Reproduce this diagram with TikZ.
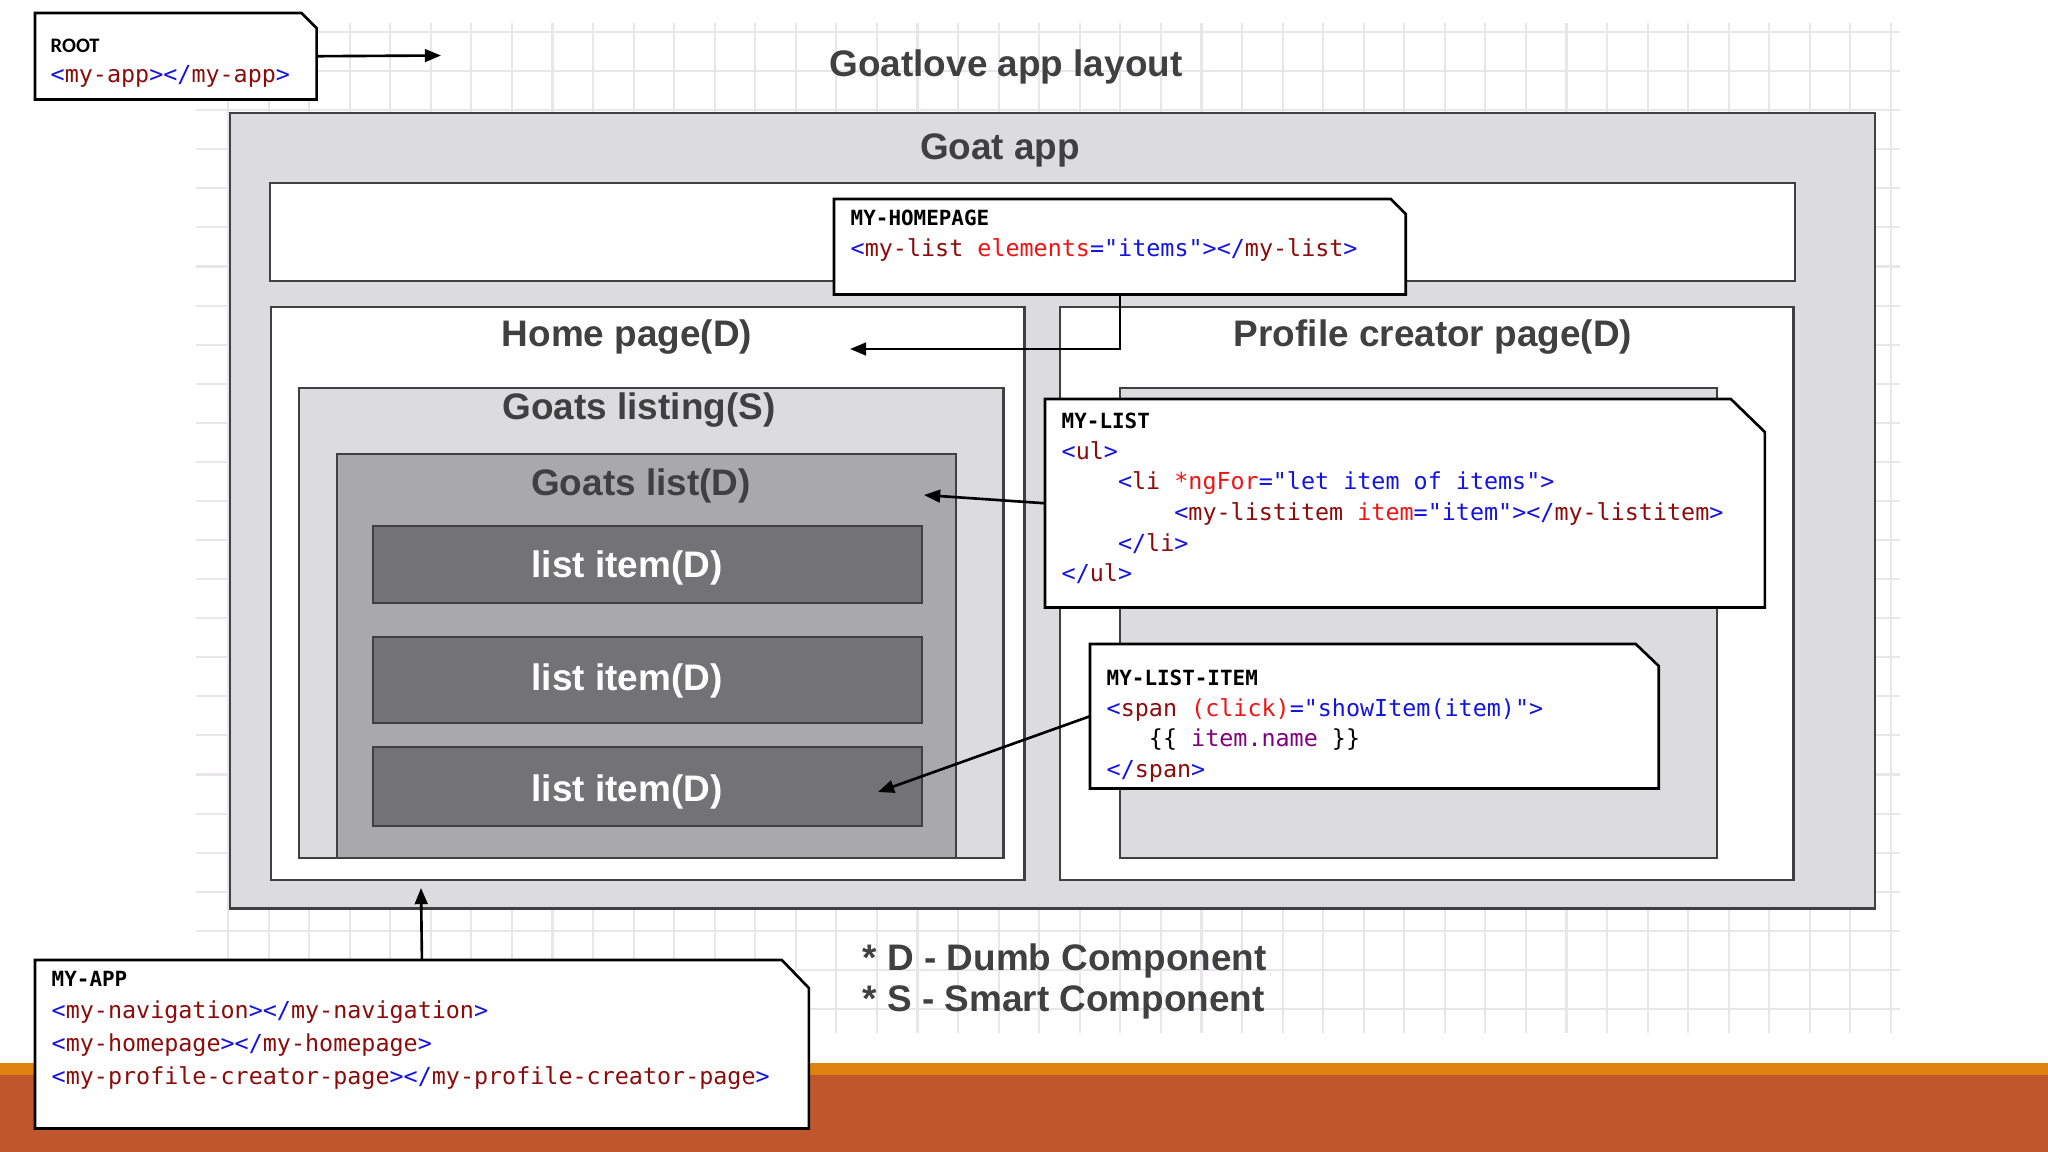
\documentclass[tikz,border=0pt]{standalone}
\usepackage{fontspec}
\setmainfont{Liberation Sans}
\setmonofont{DejaVu Sans Mono}
\newfontfamily\rootfont{Carlito}
\usepackage{xcolor}
\usepackage{tikz}
\usetikzlibrary{arrows.meta, positioning, calc}
\definecolor{gridgray}{RGB}{232,230,235}
\definecolor{appgray}{RGB}{220,219,222}
\definecolor{listgray}{RGB}{169,168,171}
\definecolor{itemgray}{RGB}{115,114,117}
\definecolor{boxborder}{RGB}{64,64,64}
\definecolor{titlegray}{RGB}{64,64,64}
\definecolor{bandorange}{RGB}{224,130,16}
\definecolor{bandrust}{RGB}{190,88,44}
\definecolor{codeblue}{RGB}{20,20,225}
\definecolor{codename}{RGB}{140,12,12}
\definecolor{codeattr}{RGB}{238,20,20}
\definecolor{codeexpr}{RGB}{128,0,128}
\newcommand{\tagc}[1]{\textcolor{codeblue}{#1}}
\newcommand{\namec}[1]{\textcolor{codename}{#1}}
\newcommand{\attrc}[1]{\textcolor{codeattr}{#1}}
\newcommand{\exprc}[1]{\textcolor{codeexpr}{#1}}
\newcommand{\headc}[1]{{\fontsize{5.95}{8.7}\selectfont\bfseries #1}}

\begin{document}
\begin{tikzpicture}[
    x=0.01cm, y=-0.01cm,
    font=\fontsize{10.5}{12}\selectfont\bfseries,
    >={Triangle[length=4.6pt, width=3.6pt]},
    gridline/.style={draw=gridgray, line width=0.6pt},
    layoutbox/.style={draw=boxborder, line width=0.6pt, anchor=north west, inner sep=0pt},
    boxtitle/.style={text=titlegray},
    itemtitle/.style={text=white},
    callout/.style={rectangle, anchor=north west, inner sep=0pt},
    calloutline/.style={draw=black, fill=white, line width=0.75pt, line join=miter},
    codetext/.style={font=\fontsize{6.65}{8.7}\selectfont\ttfamily, align=left, inner sep=0pt},
    arrow/.style={->, line width=0.75pt, draw=black}
]
\useasboundingbox (0,0) rectangle (2048,1152);

\foreach \k in {0,...,41}
    \draw[gridline] (228+40.56*\k,23) -- (228+40.56*\k,1033);
\foreach \k in {0,...,25}
    \draw[gridline] (196,32+39.08*\k) -- (1900,32+39.08*\k);

\fill[bandorange] (0,1063) rectangle (2048,1075);
\fill[bandrust] (0,1075) rectangle (2048,1152);

\node[layoutbox, fill=appgray, minimum width=16.44cm, minimum height=7.95cm] (goatapp) at (229,112) {};
\node[layoutbox, fill=white, minimum width=15.24cm, minimum height=0.98cm] (navbar) at (269,182) {};
\node[layoutbox, fill=white, minimum width=7.53cm, minimum height=5.73cm] (homepage) at (270,306) {};
\node[layoutbox, fill=appgray, minimum width=7.04cm, minimum height=4.70cm] (listing) at (298,387) {};
\node[layoutbox, fill=listgray, minimum width=6.19cm, minimum height=4.04cm] (goatslist) at (336,453) {};
\node[layoutbox, fill=itemgray, minimum width=5.49cm, minimum height=0.77cm] (item1) at (372,525) {};
\node[layoutbox, fill=itemgray, minimum width=5.49cm, minimum height=0.86cm] (item2) at (372,636) {};
\node[layoutbox, fill=itemgray, minimum width=5.49cm, minimum height=0.79cm] (item3) at (372,746) {};
\node[layoutbox, fill=white, minimum width=7.33cm, minimum height=5.73cm] (profile) at (1059,306) {};
\node[layoutbox, fill=appgray, minimum width=5.97cm, minimum height=4.70cm] (profinner) at (1119,387) {};

\node[boxtitle] (layouttitle) at (1006,67) {Goatlove app layout};
\node[boxtitle] (apptitle) at (1000,150) {Goat app};
\node[boxtitle] (hometitle) at (627,337) {Home page(D)};
\node[boxtitle] (listingtitle) at (639,410) {Goats listing(S)};
\node[boxtitle] (listtitle) at (641,486) {Goats list(D)};
\node[itemtitle] (item1title) at (627,568) {list item(D)};
\node[itemtitle] (item2title) at (627,681) {list item(D)};
\node[itemtitle] (item3title) at (627,792) {list item(D)};
\node[boxtitle] (profiletitle) at (1433,337) {Profile creator page(D)};

\node[boxtitle, anchor=west, inner sep=0pt] (legendd) at (862,961) {* D - Dumb Component};
\node[boxtitle, anchor=west, inner sep=0pt] (legends) at (862,1002) {* S - Smart Component};

\node[callout, minimum width=2.80cm, minimum height=0.85cm] (root) at (35,13) {};
\filldraw[calloutline] (root.south west) -- (root.north west) -- ([xshift=-0.15cm]root.north east)
    -- ([yshift=-0.15cm]root.north east) -- (root.south east) -- cycle;
\node[codetext, below right=0.25cm and 0.15cm of root.north west] (roottext) {{\rootfont\bfseries\fontsize{5.85}{8.7}\selectfont ROOT}\\
    \tagc{<}\namec{my-app}\tagc{></}\namec{my-app}\tagc{>}};

\node[callout, minimum width=5.70cm, minimum height=0.94cm] (myhome) at (834,199) {};
\filldraw[calloutline] (myhome.south west) -- (myhome.north west) -- ([xshift=-0.15cm]myhome.north east)
    -- ([yshift=-0.15cm]myhome.north east) -- (myhome.south east) -- cycle;
\node[codetext, below right=0.105cm and 0.16cm of myhome.north west] (hometext) {\headc{MY-HOMEPAGE}\\
    \tagc{<}\namec{my-list} \attrc{elements}\tagc{="items"></}\namec{my-list}\tagc{>}};

\node[callout, minimum width=7.18cm, minimum height=2.07cm] (mylist) at (1045,399) {};
\filldraw[calloutline] (mylist.south west) -- (mylist.north west) -- ([xshift=-0.34cm]mylist.north east)
    -- ([yshift=-0.33cm]mylist.north east) -- (mylist.south east) -- cycle;
\node[codetext, below right=0.135cm and 0.16cm of mylist.north west] (listtext) {\headc{MY-LIST}\\
    \tagc{<}\namec{ul}\tagc{>}\\
    \phantom{0000}\tagc{<}\namec{li} \attrc{*ngFor}\tagc{="let item of items">}\\
    \phantom{00000000}\tagc{<}\namec{my-listitem} \attrc{item}\tagc{="item"></}\namec{my-listitem}\tagc{>}\\
    \phantom{0000}\tagc{</}\namec{li}\tagc{>}\\
    \tagc{</}\namec{ul}\tagc{>}};

\node[callout, minimum width=5.67cm, minimum height=1.43cm] (mylistitem) at (1090,644) {};
\filldraw[calloutline] (mylistitem.south west) -- (mylistitem.north west) -- ([xshift=-0.23cm]mylistitem.north east)
    -- ([yshift=-0.22cm]mylistitem.north east) -- (mylistitem.south east) -- cycle;
\node[codetext, below right=0.255cm and 0.16cm of mylistitem.north west] (itemtext) {\headc{MY-LIST-ITEM}\\
    \tagc{<}\namec{span} \attrc{(click)}\tagc{="showItem(item)">}\\
    \phantom{000}\{\{ \exprc{item.name} \}\}\\
    \tagc{</}\namec{span}\tagc{>}};

\node[callout, minimum width=7.72cm, minimum height=1.67cm] (myapp) at (35,960) {};
\filldraw[calloutline] (myapp.south west) -- (myapp.north west) -- ([xshift=-0.27cm]myapp.north east)
    -- ([yshift=-0.28cm]myapp.north east) -- (myapp.south east) -- cycle;
\node[codetext, font=\fontsize{6.65}{9.25}\selectfont\ttfamily, below right=0.105cm and 0.16cm of myapp.north west] (apptext) {\headc{MY-APP}\\
    \tagc{<}\namec{my-navigation}\tagc{></}\namec{my-navigation}\tagc{>}\\
    \tagc{<}\namec{my-homepage}\tagc{></}\namec{my-homepage}\tagc{>}\\
    \tagc{<}\namec{my-profile-creator-page}\tagc{></}\namec{my-profile-creator-page}\tagc{>}};

\coordinate (roottip) at (441,55.5);
\coordinate (hometip) at (850,349);
\coordinate (listtip) at (924,495);
\coordinate (itemtip) at (878,792);
\coordinate (apptip) at (421,888);

\draw[arrow] (root.east) -- (roottip);
\draw[arrow] (myhome.south) |- (hometip);
\draw[arrow] (mylist.west) -- (listtip);
\draw[arrow] (mylistitem.west) -- (itemtip);
\draw[arrow] (myapp.north) -- (apptip);

\end{tikzpicture}
\end{document}
